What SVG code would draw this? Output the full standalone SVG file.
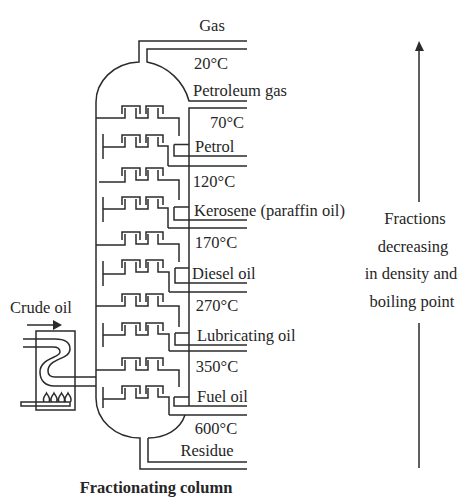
<svg xmlns="http://www.w3.org/2000/svg" width="460" height="497" viewBox="0 0 460 497">
<style>
.l{fill:none;stroke:#2b2b2b;stroke-width:1.5}
text{font-family:"Liberation Serif",serif;font-size:16.5px;fill:#262626}
.m{text-anchor:middle}
</style>
<defs>
<g id="caps" class="l"><path d="M122 114V106H140V114M146 114V106H163V114M136 108V118H148V108"/></g>
</defs>
<rect width="460" height="497" fill="#fff"/>
<g id="connectors" class="l">
<path d="M247 41H139V62C113 63 96 82 96 102V398C96 420 115 438 140 438V469H247"/>
<path d="M247 49H147V62C168 66 184 82 189 101H247"/>
<path d="M247 108H189V406"/>
<path d="M148 438V462H247"/>
<path d="M148 438C165 438 180 430 185 415"/>
<path d="M168 166H247M168 228H247M169 292H247M169 351H247M169 415H247"/>
<path d="M174 144.500H189M174 144.500V156H247"/>
<path d="M174 207H189M174 207V220H247"/>
<path d="M175 268H189M175 268V283H247"/>
<path d="M175 333H189M175 333V345H247"/>
<path d="M174 397H189M174 397V406H247"/>
</g>
<g id="trays" class="l">
<g id="tray1"><use href="#caps"/><path d="M96 118H125V108M158 108V118H179V136"/></g>
<g id="tray2"><use href="#caps" y="29"/><path d="M103 134V159M103 147H125V137M158 137V146H168V166"/></g>
<g id="tray3"><use href="#caps" y="62"/><path d="M99 182H125V170M158 170V180H179V200"/></g>
<g id="tray4"><use href="#caps" y="91"/><path d="M103 197V222M103 209H125V199M158 199V208H168V228"/></g>
<g id="tray5"><use href="#caps" y="126"/><path d="M96 245H125V234M158 234V244H179V262"/></g>
<g id="tray6"><use href="#caps" y="154"/><path d="M103 261V286M103 274H125V262M158 262V272H169V292"/></g>
<g id="tray7"><use href="#caps" y="188"/><path d="M96 306H125V296M158 296V306H179V327"/></g>
<g id="tray8"><use href="#caps" y="217"/><path d="M103 323V347M103 335H125V325M158 325V334H169V351"/></g>
<g id="tray9"><use href="#caps" y="252"/><path d="M96 370H125V360M158 360V370H179V387"/></g>
<g id="tray10"><use href="#caps" y="280"/><path d="M103 387V408M103 399H125V388M158 388V397H169V415"/></g>
</g>
<g id="furnace" class="l">
<rect x="36" y="331" width="39" height="79"/>
<path d="M27 325H57"/>
<path d="M53 320L62 325L53 330Z" fill="#2b2b2b" stroke="none"/>
<path d="M23 339H55C65 339 70 343 70 349C70 360 48 358 48 371C48 375 50 377 55 377H96"/>
<path d="M23 347H53C58 347 60 349 60 352C60 358 40 358 40 372C40 381 46 386 54 386H96"/>
<rect x="21" y="402" width="49" height="4"/>
<path d="M44 402C42 398 45 396 46.500 393C48 396 51 398 49 402M51.500 402C49.500 398 52.500 396 54 393C55.500 396 58.500 398 56.500 402M59 402C57 398 60 396 61.500 393C63 396 66 398 64 402M65.500 402C63.500 398 66.500 396 68 393C69.500 396 72.500 398 70.500 402"/>
</g>
<g id="trend" class="l">
<path d="M419 202V48M419 323V468"/>
<path d="M419 41L424 51H415Z" fill="#2b2b2b" stroke="none"/>
</g>
<g id="labels">
<text x="212" y="31" class="m">Gas</text>
<text x="211" y="69" class="m">20°C</text>
<text x="193" y="96">Petroleum gas</text>
<text x="227" y="128" class="m">70°C</text>
<text x="195" y="152">Petrol</text>
<text x="214" y="187" class="m">120°C</text>
<text x="194" y="216">Kerosene (paraffin oil)</text>
<text x="216" y="248" class="m">170°C</text>
<text x="192" y="279">Diesel oil</text>
<text x="217" y="311" class="m">270°C</text>
<text x="197" y="341">Lubricating oil</text>
<text x="217" y="372" class="m">350°C</text>
<text x="197" y="402">Fuel oil</text>
<text x="216" y="434" class="m">600°C</text>
<text x="207" y="456" class="m">Residue</text>
<text x="10" y="313">Crude oil</text>
<text x="156" y="493" class="m" font-weight="bold">Fractionating column</text>
<text x="415" y="224" class="m">Fractions</text>
<text x="413" y="252" class="m">decreasing</text>
<text x="411" y="279" class="m">in density and</text>
<text x="412" y="307" class="m">boiling point</text>
</g>
</svg>
